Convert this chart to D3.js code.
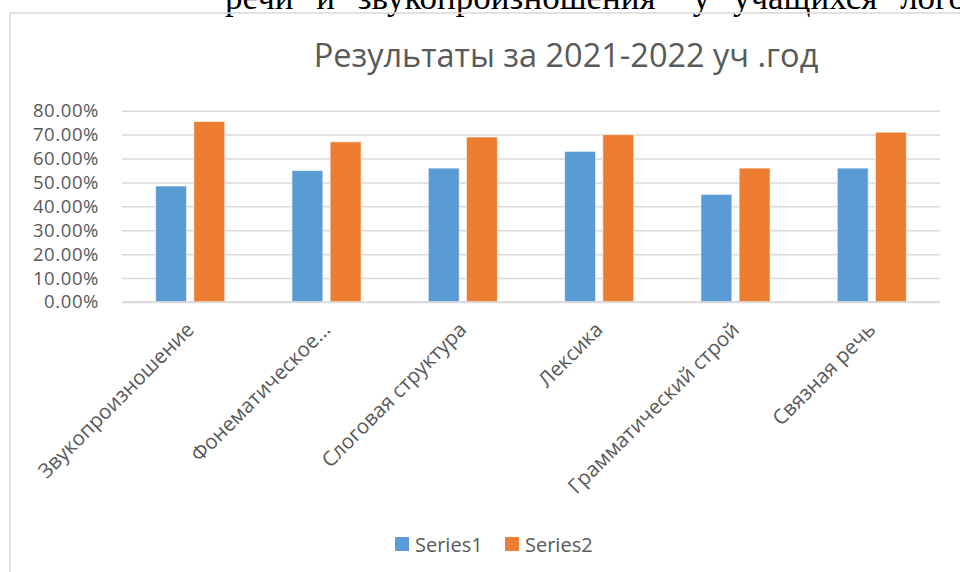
<!DOCTYPE html>
<html>
<head>
<meta charset="utf-8">
<script src="https://cdn.jsdelivr.net/npm/d3@7"></script>
<style>
  body { margin: 0; background: #fff; }
  svg { display: block; }
  text { font-family: "Open Sans", "Noto Sans", sans-serif; fill: #595959; }
</style>
</head>
<body>
<div id="chart"></div>
<script>
// data
var categories = ["Звукопроизношение", "Фонематическое...", "Слоговая структура",
                  "Лексика", "Грамматический строй", "Связная речь"];
var seriesNames = ["Series1", "Series2"];
var series1 = [0.485, 0.55, 0.56, 0.63, 0.45, 0.56];
var series2 = [0.755, 0.67, 0.69, 0.70, 0.56, 0.71];
var yTicks = [0, 0.1, 0.2, 0.3, 0.4, 0.5, 0.6, 0.7, 0.8];
var colors = ["#5B9BD5", "#ED7D31"];

var width = 960, height = 572;
var margin = {top: 110.7, right: 20, bottom: 270, left: 122};

var svg = d3.select("#chart").append("svg")
    .attr("width", width)
    .attr("height", height);

// text of the document above the chart, cut by the top edge
svg.append("text")
    .attr("x", 225).attr("y", 9)
    .style("font-family", "'Liberation Serif', serif")
    .style("font-size", "35px")
    .style("fill", "#000")
    .style("word-spacing", "14px")
    .text("речи и звукопроизношения\" у учащихся логопункта\"");

// chart area border
svg.append("rect")
    .attr("x", 10).attr("y", 13)
    .attr("width", 980).attr("height", 600)
    .attr("fill", "none")
    .attr("stroke", "#D9D9D9")
    .attr("stroke-width", 1.5);

svg.append("text")
    .attr("x", 566).attr("y", 66.5)
    .attr("text-anchor", "middle")
    .style("font-size", "32.5px")
    .text("Результаты за 2021-2022 уч .год");

var x0 = d3.scaleBand()
    .domain(categories)
    .range([margin.left, width - margin.right])
    .padding(0);

var x1 = d3.scaleBand()
    .domain(seriesNames)
    .range([0, x0.bandwidth()])
    .paddingInner(0.19)
    .paddingOuter(0.88);

var y = d3.scaleLinear()
    .domain([0, 0.8])
    .range([302, margin.top]);

// gridlines + tick labels
var yAxis = d3.axisLeft(y)
    .tickValues(yTicks)
    .tickFormat(d3.format(".2%"))
    .tickSize(-(width - margin.right - margin.left))
    .tickPadding(23);

var gy = svg.append("g")
    .attr("transform", "translate(" + margin.left + ",0)")
    .call(yAxis);
gy.select(".domain").remove();
gy.selectAll(".tick line").attr("stroke", "#D9D9D9").attr("stroke-width", 1.5);
gy.selectAll(".tick text")
    .style("font-size", "18.5px")
    .style("letter-spacing", "0.6px")
    .style("font-family", "'Open Sans', sans-serif")
    .attr("fill", "#595959");

// bars
var rows = categories.map(function(c, i){
    return {cat: c, values: [series1[i], series2[i]]};
});

var groups = svg.append("g").selectAll("g")
    .data(rows).enter().append("g")
    .attr("transform", function(d){ return "translate(" + x0(d.cat) + ",0)"; });

groups.selectAll("rect")
    .data(function(d){ return d.values.map(function(v, k){ return {name: seriesNames[k], v: v, k: k}; }); })
    .enter().append("rect")
    .attr("x", function(d){ return x1(d.name); })
    .attr("y", function(d){ return y(d.v); })
    .attr("width", x1.bandwidth())
    .attr("height", function(d){ return y(0) - y(d.v); })
    .attr("fill", function(d){ return colors[d.k]; })
    .attr("stroke", "#fff")
    .attr("stroke-opacity", 0.6)
    .attr("stroke-width", 1);

// baseline again on top of the bars
svg.append("line")
    .attr("x1", margin.left).attr("x2", width - margin.right)
    .attr("y1", y(0)).attr("y2", y(0))
    .attr("stroke", "#D9D9D9").attr("stroke-width", 1.5);

// category labels, rotated
var xAxis = d3.axisBottom(x0).tickSize(0).tickPadding(0);
var gx = svg.append("g")
    .attr("transform", "translate(0," + y(0) + ")")
    .call(xAxis);
gx.select(".domain").remove();
gx.selectAll(".tick text")
    .attr("y", 0).attr("dy", 0)
    .attr("text-anchor", "end")
    .attr("transform", "translate(5,29) rotate(-45)")
    .style("font-size", "20.5px")
    .style("font-family", "'Open Sans', sans-serif")
    .attr("fill", "#595959");

// legend
var legend = svg.append("g").selectAll("g")
    .data(seriesNames).enter().append("g")
    .attr("transform", function(d, i){ return "translate(" + (395 + i * 110) + ",537)"; });

legend.append("rect")
    .attr("width", 14).attr("height", 14)
    .attr("fill", function(d, i){ return colors[i]; });

legend.append("text")
    .attr("x", 20).attr("y", 14.5)
    .style("font-size", "20px")
    .text(function(d){ return d; });
</script>
</body>
</html>
